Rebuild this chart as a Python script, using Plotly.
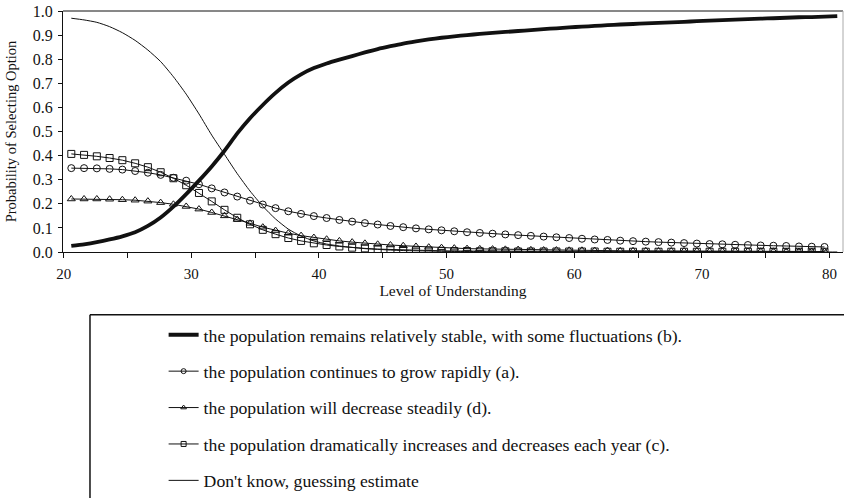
import plotly.graph_objects as go

# Level of understanding at which each option curve is evaluated
levels = [20.6, 21.6, 22.6, 23.6, 24.6, 25.6, 26.6, 27.6, 28.6, 29.6,
          30.6, 31.6, 32.6, 33.6, 34.6, 35.6, 36.6, 37.6, 38.6, 39.6,
          40.6, 41.6, 42.6, 43.6, 44.6, 45.6, 46.6, 47.6, 48.6, 49.6,
          50.6, 51.6, 52.6, 53.6, 54.6, 55.6, 56.6, 57.6, 58.6, 59.6,
          60.6, 61.6, 62.6, 63.6, 64.6, 65.6, 66.6, 67.6, 68.6, 69.6,
          70.6, 71.6, 72.6, 73.6, 74.6, 75.6, 76.6, 77.6, 78.6, 79.6,
          80.6]

# (b) remains relatively stable
option_b = [0.025, 0.032, 0.041, 0.052, 0.065, 0.082, 0.108, 0.143, 0.188, 0.240,
            0.296, 0.355, 0.420, 0.492, 0.555, 0.610, 0.660, 0.703, 0.737, 0.763,
            0.782, 0.798, 0.813, 0.828, 0.842, 0.854, 0.865, 0.874, 0.882, 0.889,
            0.895, 0.900, 0.905, 0.909, 0.913, 0.917, 0.921, 0.925, 0.928, 0.932,
            0.935, 0.938, 0.941, 0.944, 0.946, 0.949, 0.951, 0.953, 0.955, 0.958,
            0.960, 0.962, 0.964, 0.966, 0.968, 0.970, 0.972, 0.974, 0.975, 0.977,
            0.979]

# (a) continues to grow rapidly
option_a = [0.348, 0.348, 0.347, 0.345, 0.342, 0.336, 0.329, 0.320, 0.308, 0.296,
            0.281, 0.264, 0.247, 0.230, 0.213, 0.197, 0.182, 0.169, 0.158, 0.149,
            0.141, 0.133, 0.126, 0.120, 0.114, 0.108, 0.103, 0.098, 0.094, 0.090,
            0.086, 0.082, 0.079, 0.076, 0.073, 0.070, 0.067, 0.064, 0.061, 0.058,
            0.055, 0.052, 0.050, 0.047, 0.045, 0.043, 0.041, 0.039, 0.037, 0.035,
            0.033, 0.032, 0.030, 0.029, 0.027, 0.026, 0.025, 0.023, 0.022, 0.021]

# (d) will decrease steadily
option_d = [0.220, 0.220, 0.220, 0.219, 0.217, 0.215, 0.211, 0.205, 0.198, 0.189,
            0.178, 0.164, 0.150, 0.135, 0.119, 0.103, 0.089, 0.078, 0.068, 0.060,
            0.053, 0.046, 0.041, 0.036, 0.032, 0.029, 0.026, 0.023, 0.020, 0.018,
            0.016, 0.014, 0.013, 0.012, 0.011, 0.010, 0.009, 0.008, 0.008, 0.007,
            0.007, 0.006, 0.006, 0.005, 0.005, 0.005, 0.004, 0.004, 0.004, 0.004,
            0.003, 0.003, 0.003, 0.003, 0.003, 0.003, 0.002, 0.002, 0.002, 0.002]

# (c) dramatically increases and decreases
option_c = [0.407, 0.403, 0.397, 0.390, 0.381, 0.368, 0.352, 0.331, 0.306, 0.277,
            0.245, 0.210, 0.175, 0.142, 0.115, 0.092, 0.074, 0.058, 0.046, 0.036,
            0.029, 0.023, 0.018, 0.015, 0.012, 0.010, 0.008, 0.007, 0.006, 0.005,
            0.004, 0.004, 0.003, 0.003, 0.003, 0.002, 0.002, 0.002, 0.002, 0.002,
            0.002, 0.002, 0.001, 0.001, 0.001, 0.001, 0.001, 0.001, 0.001, 0.001,
            0.001, 0.001, 0.001, 0.001, 0.001, 0.001, 0.001, 0.001, 0.001, 0.001]

# Don't know / guessing
option_guess = [0.970, 0.963, 0.953, 0.935, 0.910, 0.878, 0.838, 0.790, 0.727, 0.655,
                0.573, 0.485, 0.405, 0.325, 0.253, 0.190, 0.137, 0.095, 0.066, 0.046,
                0.033, 0.025, 0.019, 0.014, 0.011, 0.008, 0.006, 0.005, 0.004, 0.003,
                0.002, 0.002, 0.002, 0.001, 0.001, 0.001, 0.001, 0.001, 0.001, 0.001,
                0.000, 0.000, 0.000, 0.000, 0.000, 0.000, 0.000, 0.000, 0.000, 0.000,
                0.000, 0.000, 0.000, 0.000, 0.000, 0.000, 0.000, 0.000, 0.000, 0.000,
                0.000]

label_b = "the population remains relatively stable, with some fluctuations (b)."
label_a = "the population continues to grow rapidly (a)."
label_d = "the population will decrease steadily (d)."
label_c = "the population dramatically increases and decreases each year (c)."
label_guess = "Don't know, guessing estimate"

SERIF = "Liberation Serif, Times New Roman, serif"
INK = "#111111"

fig = go.Figure()

thick_line = dict(color=INK, width=3.8, shape="spline", smoothing=0.6)
thin_line = dict(color=INK, width=1, shape="spline", smoothing=0.6)

fig.add_trace(go.Scatter(x=levels, y=option_b, mode="lines", line=thick_line,
                         showlegend=False))

marker_series = [
    (option_a, label_a, "circle-open"),
    (option_d, label_d, "triangle-up-open"),
    (option_c, label_c, "square-open"),
]
for values, label, symbol in marker_series:
    fig.add_trace(go.Scatter(
        x=levels[:len(values)], y=values, mode="lines+markers", showlegend=False,
        line=dict(color=INK, width=1),
        marker=dict(symbol=symbol, size=7, color=INK, line=dict(color=INK, width=1))))

fig.add_trace(go.Scatter(x=levels, y=option_guess, mode="lines", line=thin_line,
                         showlegend=False))

# Legend keys (smaller symbols than on the plot)
legend_keys = [
    (label_b, "b", "lines", thick_line, None),
    (label_a, "a", "lines+markers", dict(color=INK, width=1), "circle-open"),
    (label_d, "d", "lines+markers", dict(color=INK, width=1), "triangle-up-open"),
    (label_c, "c", "lines+markers", dict(color=INK, width=1), "square-open"),
    (label_guess, "g", "lines", thin_line, None),
]
for label, group, mode, line, symbol in legend_keys:
    marker = dict(symbol=symbol, size=5, color=INK, line=dict(color=INK, width=1)) if symbol else None
    fig.add_trace(go.Scatter(x=[None], y=[None], name=label, legendgroup=group,
                             mode=mode, line=line, marker=marker))

fig.update_xaxes(
    range=[19.95, 81.05], tick0=20, dtick=10,
    ticks="outside", ticklen=5, tickcolor=INK, tickwidth=1,
    minor=dict(dtick=5, ticks="outside", ticklen=5, tickcolor=INK, tickwidth=1),
    showline=True, linecolor=INK, linewidth=1, showgrid=False, zeroline=False,
    tickfont=dict(family=SERIF, size=15, color=INK), ticklabelstandoff=3,
    title=dict(text="Level of Understanding", font=dict(family=SERIF, size=15.5, color=INK),
               standoff=3))

fig.update_yaxes(
    range=[0, 1.0], dtick=0.1, tickformat=".1f",
    ticks="outside", ticklen=4, tickcolor=INK, tickwidth=1,
    showline=True, linecolor=INK, linewidth=1, showgrid=False, zeroline=False,
    tickfont=dict(family=SERIF, size=16, color=INK), ticklabelstandoff=2,
    title=dict(text="Probability of Selecting Option", font=dict(family=SERIF, size=14.5, color=INK),
               standoff=12))

# Frame: top edge dark, right edge light
fig.add_shape(type="line", xref="paper", yref="paper", x0=0, x1=1, y0=1, y1=1,
              line=dict(color=INK, width=1))
fig.add_shape(type="line", xref="paper", yref="paper", x0=1, x1=1, y0=0, y1=1,
              line=dict(color="#aaaaaa", width=1))

# Legend box outline (top and left edges run off the page)
fig.add_shape(type="line", xref="paper", yref="paper", x0=0.0346, x1=1.02,
              y0=-0.260, y1=-0.260, line=dict(color=INK, width=1.5))
fig.add_shape(type="line", xref="paper", yref="paper", x0=0.0346, x1=0.0346,
              y0=-0.260, y1=-1.05, line=dict(color=INK, width=1.5))

fig.update_layout(
    width=844, height=498,
    margin=dict(l=63, r=1, t=11, b=246),
    paper_bgcolor="white", plot_bgcolor="white",
    font=dict(family=SERIF, size=15, color=INK),
    showlegend=True,
    legend=dict(
        xref="paper", yref="container",
        x=0.129, y=0.364, xanchor="left", yanchor="top",
        bgcolor="rgba(0,0,0,0)", borderwidth=0,
        font=dict(family=SERIF, size=17.7, color=INK),
        tracegroupgap=10.4, traceorder="grouped"),
)

fig.write_html("out.html")
